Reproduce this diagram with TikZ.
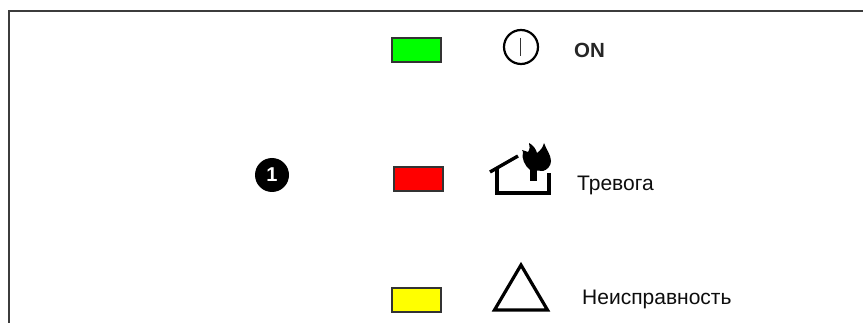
\documentclass[tikz,border=0pt]{standalone}
\usepackage{fontspec}
\setmainfont{Liberation Sans}
\definecolor{frameg}{RGB}{60,60,60}
\definecolor{ledg}{RGB}{0,255,0}
\definecolor{ledr}{RGB}{255,0,0}
\definecolor{ledy}{RGB}{255,255,0}
\tikzset{
  led/.style={draw=black!80,line width=2pt,minimum width=49pt,minimum height=24pt,inner sep=0pt,outer sep=0pt},
  lbl/.style={font=\fontsize{21pt}{24pt}\selectfont,inner sep=0pt,anchor=base west,text=black!95},
  icon/.style={line width=3.4pt,black,line cap=butt,line join=miter}
}
\begin{document}
\begin{tikzpicture}[x=1pt,y=-1pt]
\useasboundingbox (0,0) rectangle (863,323);
\fill[white] (0,0) rectangle (863,323);
\coordinate (bl) at (9,323);
\coordinate (tl) at (9,11);
\coordinate (tr) at (863,11);
\draw[frameg,line width=1.8pt] (bl) -- (tl) -- (tr);
% LEDs
\node[led,fill=ledg] (g) at (416,50) {};
\node[led,fill=ledr] (r) at (418.5,179.5) {};
\node[led,fill=ledy] (y) at (416,300) {};
% Power symbol
\node[draw=black,line width=2.2pt,circle,minimum size=34pt,inner sep=0pt] (pw) at (521,47) {};
\draw[black!80,line width=1.2pt] (520.5,38) -- (520.5,56);
\node[lbl,font=\fontsize{20.5pt}{24pt}\selectfont\bfseries,text=black!85] (on) at (574,58) {ON};
% Alarm house
\draw[icon] (490,172) -- (518,156);
\draw[icon] (497,168) -- (497,193) -- (549,193) -- (549,173);
\fill[black] (530,165) rectangle (537,181);
\fill[black] (530,170) .. controls (525,166) and (521,158) .. (523,152)
  -- (522,150) -- (528,152) .. controls (530,149) and (530,146) .. (529,143)
  .. controls (533,145) and (536,149) .. (537,153)
  .. controls (541,150) and (543,147) .. (544,143)
  .. controls (546,149) and (551,155) .. (551,161)
  .. controls (551,166) and (547,170) .. (543,171) -- cycle;
\node[lbl] (alarm) at (577,191) {Тревога};
% Fault triangle
\draw[line width=3.2pt,black,line join=miter] (521,265) -- (547.5,310) -- (494.5,310) -- cycle;
\node[lbl] (fault) at (582,304.5) {Неисправность};
% Badge
\node[circle,fill=black,minimum size=34pt,inner sep=0pt,text=white,font=\fontsize{20pt}{20pt}\selectfont\bfseries] (one) at (272,175) {1};
\end{tikzpicture}
\end{document}
